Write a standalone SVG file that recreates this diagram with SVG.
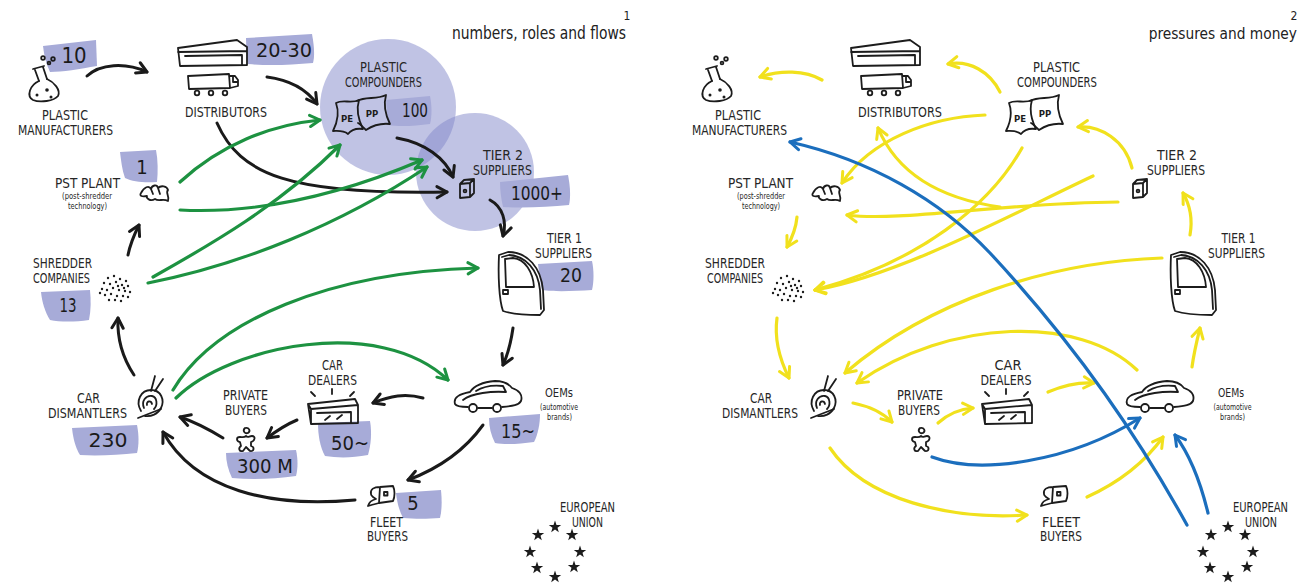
<svg xmlns="http://www.w3.org/2000/svg" xmlns:xlink="http://www.w3.org/1999/xlink" width="1303" height="585" viewBox="0 0 1303 585">
<style>
  .ink{fill:none;stroke:#1c1c1c;stroke-width:1.8;stroke-linecap:round;stroke-linejoin:round}
  .dot{fill:#1c1c1c}
  .lbl{font-family:"Liberation Sans Narrow","DejaVu Sans Condensed","Liberation Sans",sans-serif;font-size:13.5px;fill:#262626;text-anchor:middle}
  .sm{font-family:"Liberation Sans Narrow","DejaVu Sans Condensed","Liberation Sans",sans-serif;font-size:8px;fill:#262626;text-anchor:middle}
  .num{font-family:"DejaVu Sans Condensed","Liberation Sans Narrow",sans-serif;font-size:20px;fill:#1a1a1a;text-anchor:middle}
  .ttl{font-family:"Liberation Sans Narrow","DejaVu Sans Condensed",sans-serif;font-size:17px;fill:#222}
  .idx{font-family:"Liberation Sans Narrow","DejaVu Sans Condensed",sans-serif;font-size:12px;fill:#222;text-anchor:middle}
  .badge{fill:#a7abd8}
  .cluster{fill:#8287c9;fill-opacity:0.5}
  .k{fill:none;stroke:#1a1a1a;stroke-width:3;stroke-linecap:round;marker-end:url(#ah-k)}
  .g{fill:none;stroke:#1d9241;stroke-width:3.2;stroke-linecap:round;marker-end:url(#ah-g)}
  .y{fill:none;stroke:#f1e11d;stroke-width:3.2;stroke-linecap:round;marker-end:url(#ah-y)}
  .b{fill:none;stroke:#1b6ebd;stroke-width:3.2;stroke-linecap:round;marker-end:url(#ah-b)}
  .bag{font-family:"DejaVu Sans Condensed","Liberation Sans",sans-serif;font-weight:bold;font-size:9.5px;fill:#1c1c1c;text-anchor:middle}
</style>
<defs>
  <marker id="ah-k" viewBox="0 0 12 12" refX="10" refY="6" markerWidth="15" markerHeight="15" markerUnits="userSpaceOnUse" orient="auto"><path d="M2,1.5 L10,6 L2,10.5" fill="none" stroke="#1a1a1a" stroke-width="2.4" stroke-linecap="round" stroke-linejoin="round"/></marker>
  <marker id="ah-g" viewBox="0 0 12 12" refX="10" refY="6" markerWidth="15" markerHeight="15" markerUnits="userSpaceOnUse" orient="auto"><path d="M2,1.5 L10,6 L2,10.5" fill="none" stroke="#1d9241" stroke-width="2.4" stroke-linecap="round" stroke-linejoin="round"/></marker>
  <marker id="ah-y" viewBox="0 0 12 12" refX="10" refY="6" markerWidth="15" markerHeight="15" markerUnits="userSpaceOnUse" orient="auto"><path d="M2,1.5 L10,6 L2,10.5" fill="none" stroke="#f1e11d" stroke-width="2.4" stroke-linecap="round" stroke-linejoin="round"/></marker>
  <marker id="ah-b" viewBox="0 0 12 12" refX="10" refY="6" markerWidth="15" markerHeight="15" markerUnits="userSpaceOnUse" orient="auto"><path d="M2,1.5 L10,6 L2,10.5" fill="none" stroke="#1b6ebd" stroke-width="2.4" stroke-linecap="round" stroke-linejoin="round"/></marker>

  <!-- icons, drawn at their panel-1 positions -->
  <g id="ic-flask">
    <circle class="ink" cx="43" cy="58" r="1.8"/><circle class="ink" cx="49" cy="63" r="1.4"/><circle class="ink" cx="53" cy="59" r="1.8"/>
    <path class="ink" d="M33,69 L44,66 M35,70 L39,81 M43,67 L47,79"/>
    <path class="ink" d="M39,81 C30,85 26,96 33,100 C40,103 54,101 58,96 C61,90 54,82 47,79"/>
    <circle class="dot" cx="37" cy="95" r="1.5"/><circle class="dot" cx="47" cy="90" r="1.8"/><circle class="dot" cx="51" cy="97" r="1.5"/>
  </g>
  <g id="ic-warehouse">
    <path class="ink" d="M178,48 L237,40 L247,47 L247,65 L180,66 Z M178,52 L247,51 M185,56 L242,55 L242,64"/>
    <path class="ink" d="M188,76 L229,74 L230,88 L189,89 Z M229,76 L235,76 L238,80 L238,86 L230,88 M233,77 L233,82 L237,82"/>
    <circle class="ink" cx="197" cy="93" r="2.3"/><circle class="ink" cx="211" cy="93" r="2.3"/><circle class="ink" cx="225" cy="93" r="2.3"/>
  </g>
  <g id="ic-bags">
    <path class="ink" d="M357,101 C366,96 376,100 386,95 C383,106 386,116 390,124 C381,123 372,126 366,130 C362,126 360,124 358,123"/>
    <path class="ink" d="M336,103 C343,99 351,104 359,100 C356,110 359,121 363,129 C356,128 351,130 348,134 C343,130 338,131 333,131 C338,121 339,111 336,103 Z"/>
    <text class="bag" x="347" y="122">PE</text>
    <text class="bag" x="372" y="117">PP</text>
  </g>
  <g id="ic-box">
    <path class="ink" d="M460,184 L470,183 L470,197 L460,198 Z M460,184 L464,180 L474,179 L470,183 M474,179 L474,193 L470,197"/>
    <circle class="ink" cx="465" cy="191" r="1.4"/>
  </g>
  <g id="ic-door">
    <path class="ink" d="M499,255 L508,252 C528,252 541,268 543,290 L544,310 L540,315 C525,315 512,314 503,311 C499,300 498,275 499,255 Z"/>
    <path class="ink" d="M502,257 L509,255 C526,256 538,270 540,290 L541,309"/>
    <path class="ink" d="M505,259 L513,258 C525,259 533,272 534,287 L506,287 Z"/>
    <rect class="ink" x="503" y="290" width="5" height="4"/>
  </g>
  <g id="ic-car">
    <path class="ink" d="M455,404 C453,397 460,394 470,392 C474,386 483,382 495,381 C503,381 509,384 512,388 C519,390 523,395 521,401 C519,405 513,406 502,407 M492,408 L478,408 M468,407 C460,407 456,406 455,404"/>
    <path class="ink" d="M463,400 C472,393 492,391 506,392 M476,391 C484,386 494,385 503,386 L506,392"/>
    <circle class="ink" cx="473" cy="408" r="4"/><circle class="ink" cx="497" cy="408" r="4"/>
  </g>
  <g id="ic-shop">
    <path class="ink" d="M308,404 L355,399 L358,405 L358,423 L311,424 Z M308,404 L311,409 L358,405 M311,409 L311,424 M317,413 L351,412 L351,423 M325,420 L330,416 M337,419 L342,415"/>
    <path class="ink" d="M311,392 L315,396 M332,389 L332,394 M354,392 L350,396"/>
  </g>
  <g id="ic-person">
    <path class="ink" d="M245,428 C249,427 251,431 248,433 C245,434 242,431 245,428 Z"/>
    <path class="ink" d="M240,437 C236,437 236,441 240,442 L241,446 C238,448 239,452 243,451 L246,447 L250,451 C254,452 255,447 251,446 L251,442 C255,441 256,436 252,436 C249,436 248,438 246,436 C244,438 242,437 240,437 Z"/>
  </g>
  <g id="ic-dismantle">
    <path class="ink" d="M141,411 C135,401 141,390 151,390 C161,390 165,400 161,408 C158,414 151,417 145,416"/>
    <path class="ink" d="M144,408 C141,401 146,395 152,396 C157,397 158,405 154,409 M147,405 C146,401 151,400 152,404"/>
    <path class="ink" d="M138,418 L161,409 M151,391 L155,376 M155,391 L163,379"/>
  </g>
  <g id="ic-cap">
    <path class="ink" d="M371,494 C370,489 374,487 380,487 L393,486 C395,490 395,497 393,501 L379,503 C375,504 371,505 368,506 C369,502 372,500 376,499 C373,497 371,496 371,494 Z M380,487 L379,503"/>
    <rect class="ink" x="384" y="492" width="3.5" height="3.5"/>
  </g>
  <g id="ic-pst">
    <path class="ink" d="M141,193 C144,187 149,185 151,189 C152,185 157,184 158,188 C161,185 167,186 168,190 C165,193 170,196 168,201 C163,198 159,202 155,199 C150,202 146,198 147,196 C142,197 139,196 141,193 Z M151,189 L153,194 M158,188 L160,194"/>
  </g>
  <g id="ic-dots" class="dot">
    <circle cx="108" cy="278" r="1.2"/><circle cx="114" cy="276" r="1.2"/><circle cx="120" cy="279" r="1.2"/><circle cx="126" cy="281" r="1.2"/>
    <circle cx="104" cy="283" r="1.2"/><circle cx="110" cy="284" r="1.2"/><circle cx="116" cy="282" r="1.2"/><circle cx="122" cy="285" r="1.2"/>
    <circle cx="128" cy="286" r="1.2"/><circle cx="102" cy="289" r="1.2"/><circle cx="107" cy="290" r="1.2"/><circle cx="113" cy="288" r="1.2"/>
    <circle cx="119" cy="290" r="1.2"/><circle cx="125" cy="291" r="1.2"/><circle cx="130" cy="292" r="1.2"/><circle cx="105" cy="295" r="1.2"/>
    <circle cx="111" cy="294" r="1.2"/><circle cx="117" cy="296" r="1.2"/><circle cx="123" cy="296" r="1.2"/><circle cx="128" cy="297" r="1.2"/>
    <circle cx="109" cy="300" r="1.2"/><circle cx="115" cy="300" r="1.2"/><circle cx="121" cy="301" r="1.2"/><circle cx="100" cy="293" r="1.2"/>
    <circle cx="118" cy="286" r="1.2"/><circle cx="124" cy="288" r="1.2"/>
  </g>
  <path id="star" class="dot" d="M0,-6.5 L1.5,-2.1 L6.2,-2 L2.5,0.8 L3.8,5.3 L0,2.6 L-3.8,5.3 L-2.5,0.8 L-6.2,-2 L-1.5,-2.1 Z"/>
  <g id="ic-eu">
    <use href="#star" x="555" y="527"/><use href="#star" x="572" y="535"/><use href="#star" x="580" y="552"/><use href="#star" x="574" y="567"/>
    <use href="#star" x="555" y="577"/><use href="#star" x="537" y="568"/><use href="#star" x="530" y="552"/><use href="#star" x="538" y="535"/>
  </g>
</defs>

<rect width="1303" height="585" fill="#ffffff"/>

<!-- ===== panel 1: numbers, roles and flows ===== -->
<g id="panel-1">
  <g id="title-1">
    <text class="idx" x="627" y="20">1</text>
    <text class="ttl" x="452" y="39" textLength="174" lengthAdjust="spacingAndGlyphs">numbers, roles and flows</text>
  </g>
  <g id="clusters-1">
    <circle class="cluster" cx="388" cy="107" r="68"/>
    <circle class="cluster" cx="475" cy="172" r="59"/>
  </g>
  <g id="connectors-1">
    <path class="k" d="M87,76 C100,64 125,62 147,72"/>
    <path class="k" d="M267,77 C290,80 307,90 317,104"/>
    <path class="k" d="M217,123 C240,175 290,195 447,192"/>
    <path class="k" d="M397,138 C425,143 445,158 453,177"/>
    <path class="k" d="M490,200 C503,207 507,222 503,236"/>
    <path class="k" d="M513,328 C511,342 508,354 503,365"/>
    <path class="k" d="M423,398 C405,393 390,396 373,403"/>
    <path class="k" d="M297,420 C285,425 275,432 267,438"/>
    <path class="k" d="M223,438 C210,430 195,422 180,417"/>
    <path class="k" d="M483,425 C465,450 440,468 408,480"/>
    <path class="k" d="M355,500 C270,508 195,490 163,432"/>
    <path class="k" d="M134,375 C124,360 117,340 118,318"/>
    <path class="k" d="M128,255 C130,245 134,235 139,225"/>
    <path class="g" d="M180,182 C220,145 270,125 320,120"/>
    <path class="g" d="M180,210 C260,214 340,195 422,160"/>
    <path class="g" d="M153,277 C210,245 280,205 340,145"/>
    <path class="g" d="M148,283 C240,265 340,225 427,167"/>
    <path class="g" d="M173,390 C215,320 330,272 478,268"/>
    <path class="g" d="M176,398 C230,345 380,315 448,380"/>
  </g>

  <g id="n1-plastic-manufacturers">
    <path class="badge" d="M43,46 L96,40 L97,66 C80,69 62,72 50,72 C46,64 44,55 43,46 Z"/>
    <use href="#ic-flask"/>
    <text class="num" x="74" y="63" style="font-size:22px">10</text>
    <text class="lbl" x="65" y="120" textLength="46" lengthAdjust="spacingAndGlyphs">PLASTIC</text>
    <text class="lbl" x="65.5" y="135" textLength="95" lengthAdjust="spacingAndGlyphs">MANUFACTURERS</text>
  </g>
  <g id="n1-distributors">
    <path class="badge" d="M246,38 L312,34 C314,45 315,55 313,63 C290,65 268,66 248,64 C247,55 246,46 246,38 Z"/>
    <use href="#ic-warehouse"/>
    <text class="num" x="284" y="57" textLength="56" lengthAdjust="spacingAndGlyphs">20-30</text>
    <text class="lbl" x="226" y="117" textLength="82" lengthAdjust="spacingAndGlyphs">DISTRIBUTORS</text>
  </g>
  <g id="n1-plastic-compounders">
    <path class="badge" d="M386,100 L430,96 C432,106 432,116 430,124 C415,126 400,127 388,125 Z"/>
    <use href="#ic-bags"/>
    <text class="num" x="415" y="117" textLength="26" lengthAdjust="spacingAndGlyphs">100</text>
    <text class="lbl" x="383.5" y="72" textLength="47" lengthAdjust="spacingAndGlyphs">PLASTIC</text>
    <text class="lbl" x="383.5" y="87" textLength="77" lengthAdjust="spacingAndGlyphs">COMPOUNDERS</text>
  </g>
  <g id="n1-tier2">
    <path class="badge" d="M500,182 L568,175 C570,185 571,196 569,205 C548,207 525,208 503,207 C501,198 500,190 500,182 Z"/>
    <use href="#ic-box"/>
    <text class="num" x="537" y="200" textLength="52" lengthAdjust="spacingAndGlyphs">1000+</text>
    <text class="lbl" x="503" y="160" textLength="40" lengthAdjust="spacingAndGlyphs">TIER 2</text>
    <text class="lbl" x="502.5" y="175" textLength="59" lengthAdjust="spacingAndGlyphs">SUPPLIERS</text>
  </g>
  <g id="n1-tier1">
    <path class="badge" d="M538,264 L592,261 C594,270 594,282 592,290 C575,291 555,292 542,290 C540,282 539,272 538,264 Z"/>
    <use href="#ic-door"/>
    <text class="num" x="571" y="282" textLength="22" lengthAdjust="spacingAndGlyphs">20</text>
    <text class="lbl" x="564.5" y="243" textLength="35" lengthAdjust="spacingAndGlyphs">TIER 1</text>
    <text class="lbl" x="563.5" y="258" textLength="57" lengthAdjust="spacingAndGlyphs">SUPPLIERS</text>
  </g>
  <g id="n1-oems">
    <path class="badge" d="M489,418 L540,414 C540,424 538,434 534,442 C520,444 505,445 495,443 C491,435 489,427 489,418 Z"/>
    <use href="#ic-car"/>
    <text class="num" x="518" y="438" textLength="34" lengthAdjust="spacingAndGlyphs">15~</text>
    <text class="lbl" x="559" y="397" style="font-size:12px" textLength="28" lengthAdjust="spacingAndGlyphs">OEMs</text>
    <text class="sm" x="559" y="410" textLength="38" lengthAdjust="spacingAndGlyphs">(automotive</text>
    <text class="sm" x="559.5" y="420" textLength="25" lengthAdjust="spacingAndGlyphs">brands)</text>
  </g>
  <g id="n1-car-dealers">
    <path class="badge" d="M318,423 L370,421 C372,432 371,445 368,455 C352,458 338,458 325,456 C320,447 318,435 318,423 Z"/>
    <use href="#ic-shop"/>
    <text class="num" x="350" y="450" textLength="38" lengthAdjust="spacingAndGlyphs">50~</text>
    <text class="lbl" x="332.5" y="370" textLength="21" lengthAdjust="spacingAndGlyphs">CAR</text>
    <text class="lbl" x="332.5" y="385" textLength="49" lengthAdjust="spacingAndGlyphs">DEALERS</text>
  </g>
  <g id="n1-private-buyers">
    <path class="badge" d="M226,453 L296,450 C298,459 298,468 296,476 C275,479 252,480 232,478 C228,470 226,461 226,453 Z"/>
    <use href="#ic-person"/>
    <text class="num" x="265" y="473" textLength="56" lengthAdjust="spacingAndGlyphs">300 M</text>
    <text class="lbl" x="245.5" y="400" textLength="45" lengthAdjust="spacingAndGlyphs">PRIVATE</text>
    <text class="lbl" x="246" y="415" textLength="42" lengthAdjust="spacingAndGlyphs">BUYERS</text>
  </g>
  <g id="n1-car-dismantlers">
    <path class="badge" d="M72,428 L137,425 C139,435 139,445 137,453 C118,455 98,456 80,455 C75,447 73,437 72,428 Z"/>
    <use href="#ic-dismantle"/>
    <text class="num" x="108" y="447" textLength="39" lengthAdjust="spacingAndGlyphs">230</text>
    <text class="lbl" x="88.5" y="403" textLength="23" lengthAdjust="spacingAndGlyphs">CAR</text>
    <text class="lbl" x="87.5" y="418" textLength="79" lengthAdjust="spacingAndGlyphs">DISMANTLERS</text>
  </g>
  <g id="n1-fleet-buyers">
    <path class="badge" d="M396,493 L441,490 C442,500 442,510 440,518 C428,519 414,519 403,518 C399,510 397,502 396,493 Z"/>
    <use href="#ic-cap"/>
    <text class="num" x="413" y="510">5</text>
    <text class="lbl" x="386.5" y="527" textLength="33" lengthAdjust="spacingAndGlyphs">FLEET</text>
    <text class="lbl" x="387.5" y="541" textLength="41" lengthAdjust="spacingAndGlyphs">BUYERS</text>
  </g>
  <g id="n1-shredder">
    <path class="badge" d="M41,292 L90,290 C91,300 91,310 89,320 C75,322 60,322 50,320 C45,312 42,302 41,292 Z"/>
    <use href="#ic-dots"/>
    <text class="num" x="68" y="312" textLength="17" lengthAdjust="spacingAndGlyphs">13</text>
    <text class="lbl" x="62.5" y="268" textLength="59" lengthAdjust="spacingAndGlyphs">SHREDDER</text>
    <text class="lbl" x="61.5" y="283" textLength="57" lengthAdjust="spacingAndGlyphs">COMPANIES</text>
  </g>
  <g id="n1-pst-plant">
    <path class="badge" d="M120,152 L156,150 C158,160 158,172 157,182 C145,183 133,182 125,178 C122,170 121,160 120,152 Z"/>
    <use href="#ic-pst"/>
    <text class="num" x="142" y="174">1</text>
    <text class="lbl" x="87.5" y="188" textLength="65" lengthAdjust="spacingAndGlyphs">PST PLANT</text>
    <text class="sm" x="87" y="199" textLength="50" lengthAdjust="spacingAndGlyphs">(post-shredder</text>
    <text class="sm" x="87.5" y="209" textLength="39" lengthAdjust="spacingAndGlyphs">technology)</text>
  </g>
  <g id="n1-european-union">
    <use href="#ic-eu"/>
    <text class="lbl" x="587.5" y="512" textLength="55" lengthAdjust="spacingAndGlyphs">EUROPEAN</text>
    <text class="lbl" x="587.5" y="527" textLength="31" lengthAdjust="spacingAndGlyphs">UNION</text>
  </g>
</g>

<!-- ===== panel 2: pressures and money ===== -->
<g id="panel-2">
  <g id="title-2">
    <text class="idx" x="1294" y="20">2</text>
    <text class="ttl" x="1297" y="39" text-anchor="end" style="font-size:15.3px">pressures and money</text>
  </g>
  <g id="connectors-2">
    <path class="y" d="M822,80 C805,70 780,70 760,77"/>
    <path class="y" d="M1000,92 C990,72 970,60 948,64"/>
    <path class="y" d="M1132,168 C1125,140 1100,125 1078,127"/>
    <path class="y" d="M1190,235 C1193,218 1190,205 1183,193"/>
    <path class="y" d="M1192,367 C1194,352 1197,340 1200,328"/>
    <path class="y" d="M1048,392 C1062,386 1078,382 1094,383"/>
    <path class="y" d="M938,423 C948,414 960,409 973,408"/>
    <path class="y" d="M853,403 C868,406 882,412 892,422"/>
    <path class="y" d="M830,448 C865,500 950,520 1027,515"/>
    <path class="y" d="M1087,497 C1120,482 1145,462 1163,437"/>
    <path class="y" d="M777,318 C774,340 780,360 789,378"/>
    <path class="y" d="M797,217 C796,228 792,238 787,247"/>
    <path class="y" d="M1118,202 C1000,203 900,222 847,215"/>
    <path class="y" d="M1000,207 C950,200 900,180 878,128"/>
    <path class="y" d="M985,115 C930,117 870,140 842,183"/>
    <path class="y" d="M1093,176 C1010,215 900,275 815,290"/>
    <path class="y" d="M1022,148 C990,205 920,262 815,290"/>
    <path class="y" d="M1162,258 C1050,262 930,300 845,373"/>
    <path class="y" d="M1137,370 C1080,315 950,318 857,383"/>
    <path class="b" d="M1187,525 C1140,440 1080,350 990,253 C940,200 870,160 790,142"/>
    <path class="b" d="M1208,513 C1200,480 1190,455 1175,435"/>
    <path class="b" d="M932,457 C980,475 1070,462 1140,418"/>
  </g>

  <g id="n2-plastic-manufacturers">
    <use href="#ic-flask" x="673"/>
    <text class="lbl" x="738" y="120" textLength="46" lengthAdjust="spacingAndGlyphs">PLASTIC</text>
    <text class="lbl" x="739.5" y="135" textLength="95" lengthAdjust="spacingAndGlyphs">MANUFACTURERS</text>
  </g>
  <g id="n2-distributors">
    <use href="#ic-warehouse" x="673"/>
    <text class="lbl" x="900" y="117" textLength="84" lengthAdjust="spacingAndGlyphs">DISTRIBUTORS</text>
  </g>
  <g id="n2-plastic-compounders">
    <use href="#ic-bags" x="673"/>
    <text class="lbl" x="1056.5" y="72" textLength="47" lengthAdjust="spacingAndGlyphs">PLASTIC</text>
    <text class="lbl" x="1057" y="87" textLength="80" lengthAdjust="spacingAndGlyphs">COMPOUNDERS</text>
  </g>
  <g id="n2-tier2">
    <use href="#ic-box" x="673"/>
    <text class="lbl" x="1177" y="160" textLength="40" lengthAdjust="spacingAndGlyphs">TIER 2</text>
    <text class="lbl" x="1176" y="175" textLength="58" lengthAdjust="spacingAndGlyphs">SUPPLIERS</text>
  </g>
  <g id="n2-tier1">
    <use href="#ic-door" x="672"/>
    <text class="lbl" x="1238.5" y="243" textLength="34" lengthAdjust="spacingAndGlyphs">TIER 1</text>
    <text class="lbl" x="1236.5" y="258" textLength="57" lengthAdjust="spacingAndGlyphs">SUPPLIERS</text>
  </g>
  <g id="n2-oems">
    <use href="#ic-car" x="672"/>
    <text class="lbl" x="1231" y="397" style="font-size:12px" textLength="26" lengthAdjust="spacingAndGlyphs">OEMs</text>
    <text class="sm" x="1232.5" y="410" textLength="38" lengthAdjust="spacingAndGlyphs">(automotive</text>
    <text class="sm" x="1232.5" y="420" textLength="25" lengthAdjust="spacingAndGlyphs">brands)</text>
  </g>
  <g id="n2-car-dealers">
    <use href="#ic-shop" x="674"/>
    <text class="lbl" x="1008" y="370" textLength="27" lengthAdjust="spacingAndGlyphs">CAR</text>
    <text class="lbl" x="1006" y="385" textLength="51" lengthAdjust="spacingAndGlyphs">DEALERS</text>
  </g>
  <g id="n2-private-buyers">
    <use href="#ic-person" x="675"/>
    <text class="lbl" x="920" y="400" textLength="46" lengthAdjust="spacingAndGlyphs">PRIVATE</text>
    <text class="lbl" x="919" y="415" textLength="42" lengthAdjust="spacingAndGlyphs">BUYERS</text>
  </g>
  <g id="n2-car-dismantlers">
    <use href="#ic-dismantle" x="673"/>
    <text class="lbl" x="761" y="403" textLength="22" lengthAdjust="spacingAndGlyphs">CAR</text>
    <text class="lbl" x="760" y="418" textLength="76" lengthAdjust="spacingAndGlyphs">DISMANTLERS</text>
  </g>
  <g id="n2-fleet-buyers">
    <use href="#ic-cap" x="673"/>
    <text class="lbl" x="1061" y="527" textLength="38" lengthAdjust="spacingAndGlyphs">FLEET</text>
    <text class="lbl" x="1061" y="541" textLength="42" lengthAdjust="spacingAndGlyphs">BUYERS</text>
  </g>
  <g id="n2-shredder">
    <use href="#ic-dots" x="673"/>
    <text class="lbl" x="735" y="268" textLength="60" lengthAdjust="spacingAndGlyphs">SHREDDER</text>
    <text class="lbl" x="735" y="283" textLength="56" lengthAdjust="spacingAndGlyphs">COMPANIES</text>
  </g>
  <g id="n2-pst-plant">
    <use href="#ic-pst" x="672"/>
    <text class="lbl" x="760.5" y="188" textLength="65" lengthAdjust="spacingAndGlyphs">PST PLANT</text>
    <text class="sm" x="761" y="199" textLength="48" lengthAdjust="spacingAndGlyphs">(post-shredder</text>
    <text class="sm" x="761" y="209" textLength="38" lengthAdjust="spacingAndGlyphs">technology)</text>
  </g>
  <g id="n2-european-union">
    <use href="#ic-eu" x="673"/>
    <text class="lbl" x="1260.5" y="512" textLength="55" lengthAdjust="spacingAndGlyphs">EUROPEAN</text>
    <text class="lbl" x="1261" y="527" textLength="32" lengthAdjust="spacingAndGlyphs">UNION</text>
  </g>
</g>
</svg>
